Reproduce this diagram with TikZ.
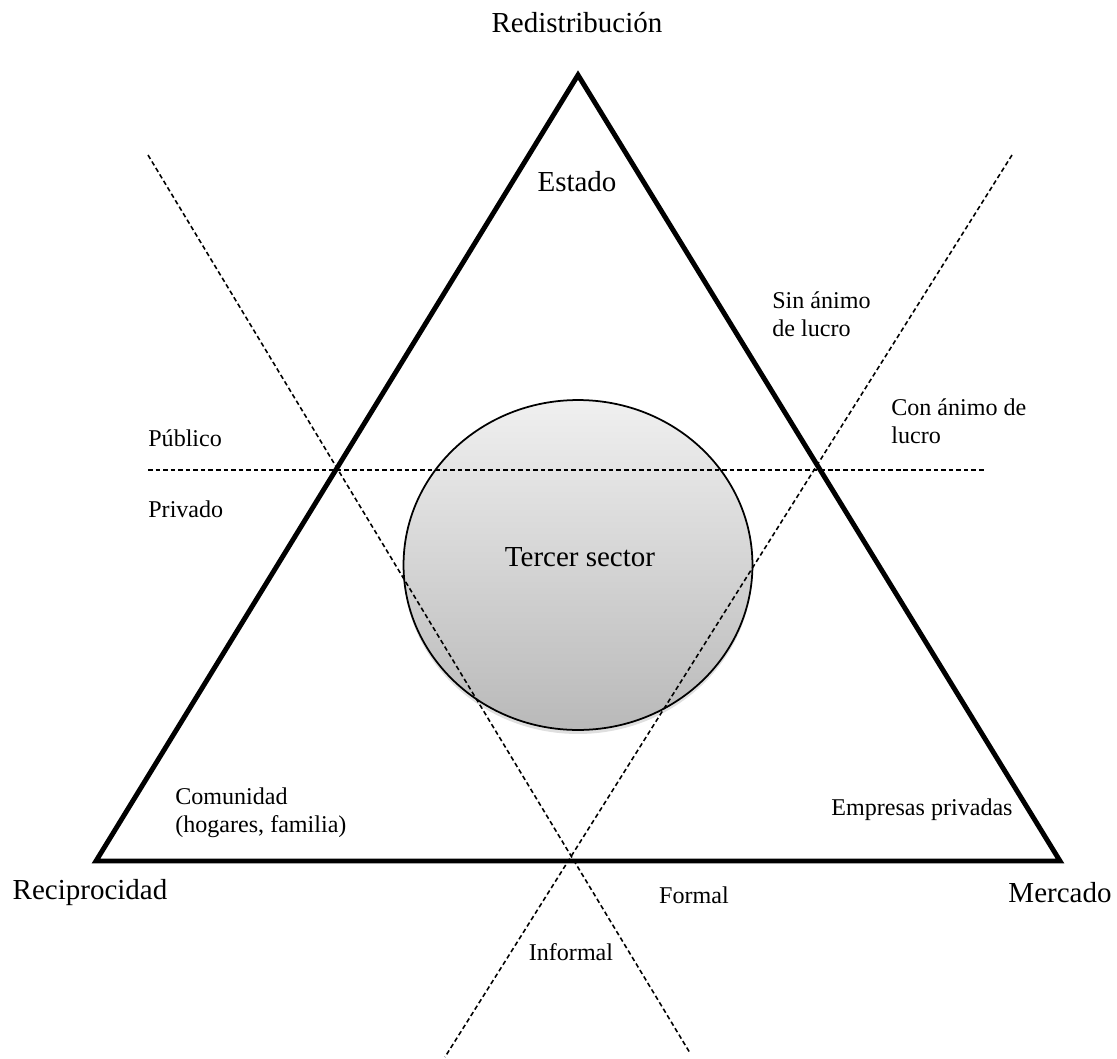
\documentclass[tikz,border=0pt]{standalone}
\usepackage{fontspec}
\setmainfont{Liberation Serif}
\usetikzlibrary{shapes.geometric,shadows}

\begin{document}
\begin{tikzpicture}[x={(0.02cm,0)},y={(0,-0.02cm)},
        bigtxt/.style={inner sep=0pt,font=\fontsize{16.5}{19}\selectfont},
        smalltxt/.style={inner sep=0pt,align=left,anchor=west,font=\fontsize{13.7}{15.9}\selectfont},
        divider/.style={line width=0.9pt,dash pattern=on 2.6pt off 1.7pt},
        sideline/.style={line width=2.8pt,line join=miter}]
        \useasboundingbox (0,0) rectangle (1117,1059);
        \node[ellipse,draw,line width=1pt,minimum width=6.98cm,minimum height=6.6cm,top color=gray!12,bottom color=gray!55,
          drop shadow={shadow xshift=0pt,shadow yshift=-0.08cm,opacity=0.25}] (tercer) at (578,565) {};
        \node[bigtxt] (tercerlbl) at (580,557) {Tercer sector};
        \coordinate (hl) at (148,470);
        \coordinate (hr) at (985,470);
        \coordinate (d1a) at (148,155);
        \coordinate (d1b) at (690,1053);
        \coordinate (d2a) at (1012,155);
        \coordinate (d2b) at (445,1057);
        \draw[divider] (hl) -- (hr);
        \draw[divider] (d1a) -- (d1b);
        \draw[divider] (d2a) -- (d2b);
        \coordinate (apex) at (578,75);
        \coordinate (lv) at (96,861);
        \coordinate (rv) at (1060,861);
        \draw[sideline] (apex) -- (lv) -- (rv) -- cycle;
        \node[bigtxt] (redis) at (577,23) {Redistribución};
        \node[bigtxt] (estado) at (577,182) {Estado};
        \node[bigtxt] (recip) at (90,893) {Reciprocidad};
        \node[bigtxt] (merc) at (1060,893) {Mercado};
        \node[smalltxt] (sinlucro) at (772,314) {Sin ánimo\\de lucro};
        \node[smalltxt] (conlucro) at (891,421) {Con ánimo de\\lucro};
        \node[smalltxt] (publico) at (148,438) {Público};
        \node[smalltxt] (privado) at (148,509) {Privado};
        \node[smalltxt] (comunidad) at (175,813) {Comunidad\\(hogares, familia)};
        \node[smalltxt,anchor=center] (empresas) at (922,810) {Empresas privadas};
        \node[smalltxt,anchor=center] (formal) at (694,895) {Formal};
        \node[smalltxt,anchor=center] (informal) at (571,952) {Informal};
      \end{tikzpicture}
\end{document}
